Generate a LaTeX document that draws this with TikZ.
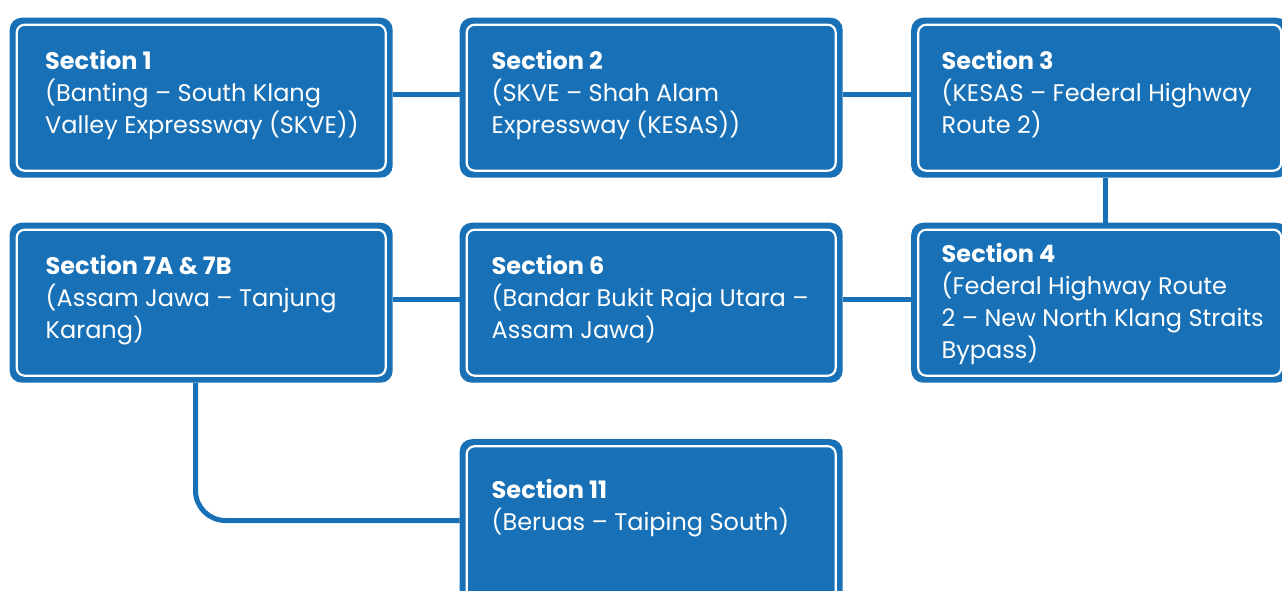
\documentclass[tikz,border=0pt]{standalone}
\usepackage{fontspec}
\setmainfont{Poppins}
\definecolor{routeblue}{RGB}{24,112,182}
\tikzset{
  secbox/.style={fill=routeblue, rounded corners=12pt, inner sep=0pt,
    minimum width=383pt, minimum height=160pt, anchor=north west,
    path picture={
      \draw[white, line width=2.2pt, rounded corners=8pt]
        ([shift={(7pt,-7pt)}]path picture bounding box.north west) rectangle
        ([shift={(-7pt,7pt)}]path picture bounding box.south east);}},
  sectext/.style={text=white, inner sep=0pt, anchor=base west,
    font=\fontsize{24}{32}\selectfont},
  conn/.style={draw=routeblue, line width=5pt}
}
\newcommand{\secbody}[1]{\parbox[t]{380pt}{\raggedright #1}}
\begin{document}
\begin{tikzpicture}[x=1pt,y=-1pt]
\useasboundingbox (0,0) rectangle (1282,590);
\clip (0,0) rectangle (1282,590);
% section boxes
\node[secbox] (s1) at (9.5,17.5) {};
\node[secbox] (s2) at (459.5,17.5) {};
\node[secbox, minimum width=377pt] (s3) at (911,17.5) {};
\node[secbox] (s7) at (9.5,222.5) {};
\node[secbox] (s6) at (459.5,222.5) {};
\node[secbox, minimum width=377pt] (s4) at (911,222.5) {};
\node[secbox, minimum height=200pt] (s11) at (459.5,439) {};
% links between sections
\draw[conn] ([yshift=3.5pt]s1.east) -- ([yshift=3.5pt]s2.west);
\draw[conn] ([yshift=3.5pt]s2.east) -- ([yshift=3.5pt]s3.west);
\draw[conn] ([xshift=5.5pt]s3.south) -- ([xshift=5.5pt]s4.north);
\draw[conn] ([yshift=3.5pt]s7.east) -- ([yshift=3.5pt]s6.west);
\draw[conn] ([yshift=3.5pt]s6.east) -- ([yshift=3.5pt]s4.west);
\coordinate (bend) at (195,520.5);
\draw[conn, rounded corners=30pt] ([xshift=-5.7pt]s7.south) |- (s11.west |- bend);
% labels
\node[sectext] (t1) at (45,69) {\secbody{\textbf{Section 1}\\(Banting – South Klang\\Valley Expressway (SKVE))}};
\node[sectext] (t2) at (491.5,69) {\secbody{\textbf{Section 2}\\(SKVE – Shah Alam\\Expressway (KESAS))}};
\node[sectext] (t3) at (941.5,69) {\secbody{\textbf{Section 3}\\(KESAS – Federal Highway\\Route 2)}};
\node[sectext] (t7) at (45.5,274) {\secbody{\textbf{Section 7A \& 7B}\\(Assam Jawa – Tanjung\\Karang)}};
\node[sectext] (t6) at (491.5,274) {\secbody{\textbf{Section 6}\\(Bandar Bukit Raja Utara –\\Assam Jawa)}};
\node[sectext] (t4) at (941.5,262) {\secbody{\textbf{Section 4}\\(Federal Highway Route\\2 – New North Klang Straits\\Bypass)}};
\node[sectext] (t11) at (491.5,498) {\secbody{\textbf{Section 11}\\(Beruas – Taiping South)}};
\end{tikzpicture}
\end{document}
